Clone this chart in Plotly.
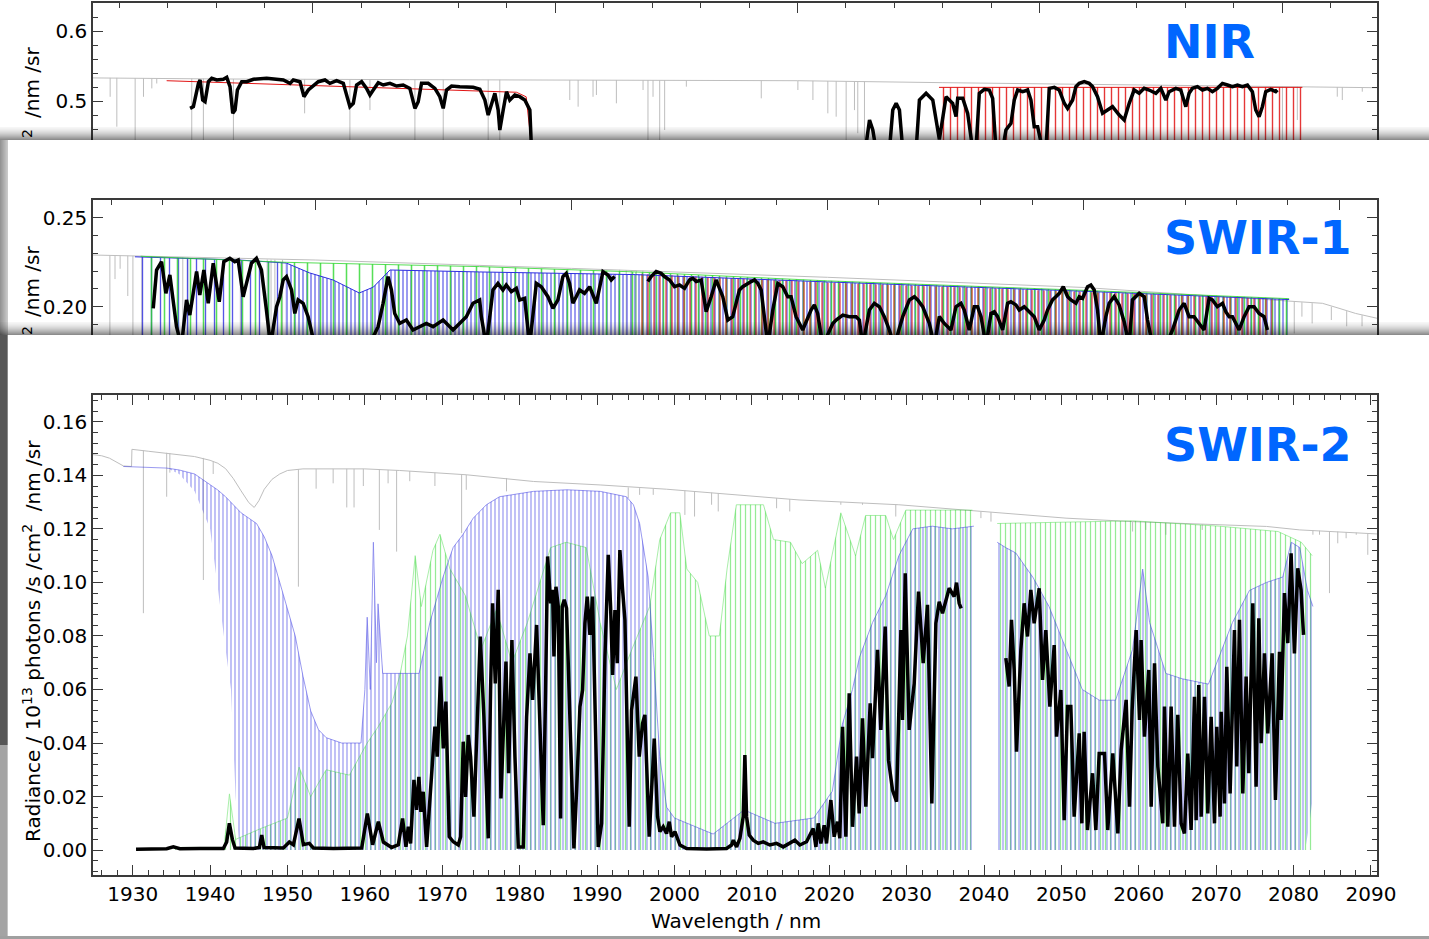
import plotly.graph_objects as go

W, H = 1429, 939
FONT = "DejaVu Sans"

# ======================= SWIR-2 (bottom panel) =======================
sw2_gray = [(1924.87,0.1477),(1926.0,0.1473),(1927.0,0.1464),(1928.0,0.1447),(1928.8,0.1435),(1929.85,0.1433),
            (1929.9,0.1497),(1932.0,0.1490),(1936.0,0.1478),(1938.0,0.1470),(1940.0,0.1456),(1941.0,0.1445),
            (1942.0,0.1425),(1943.0,0.1388),(1944.0,0.1342),(1945.0,0.1298),(1945.7,0.1280),(1946.3,0.1305),
            (1947.0,0.1348),(1948.0,0.1385),(1949.0,0.1405),(1950.0,0.1418),(1952.0,0.1424),(1960.0,0.1424),
            (1964.5,0.1418),(1973.1,0.1402),(1981.8,0.1377),(1990.4,0.1364),(1999.0,0.1348),(2007.6,0.1327),
            (2016.1,0.1308),(2029.0,0.1290),(2039.4,0.1265),(2050.6,0.1240),(2059.2,0.1227),(2070.0,0.1215),
            (2076.5,0.1209),(2080.8,0.1196),(2090.78,0.1181)]
# narrow absorption lines of the gray spectrum: (wavelength, continuum, line bottom)
sw2_gray_lines = [(1931.38,0.1493,0.0885),(1934.39,0.1484,0.1320),(1934.8,0.1483,0.1410),(1939.13,0.1465,0.1009),
                  (1940.4,0.1452,0.1405),(1951.41,0.1423,0.0984),(1953.7,0.1424,0.1350),(1955.9,0.1424,0.1370),
                  (1957.66,0.1424,0.1280),(1958.6,0.1424,0.1280),(1959.8,0.1424,0.1360),(1961.87,0.1423,0.1196),
                  (1963.0,0.1420,0.1370),(1964.1,0.1419,0.1115),(1965.8,0.1416,0.1378),(1969.05,0.1410,0.1360),
                  (1972.5,0.1403,0.1184),(1973.1,0.1402,0.1346),(1978.3,0.1390,0.1340),(1994.03,0.1355,0.1315),
                  (1995.5,0.1352,0.1327),(1997.26,0.1350,0.1327),(2001.35,0.1343,0.1252),(2002.6,0.1340,0.1246),
                  (2004.8,0.1335,0.1290),(2005.66,0.1333,0.1265),(2013.2,0.1315,0.1277),(2014.9,0.1311,0.1265),
                  (2021.5,0.1300,0.1290),(2024.3,0.1297,0.1290),(2028.6,0.1291,0.1246),(2039.6,0.1265,0.1240),
                  (2040.9,0.1262,0.1227),(2059.2,0.1227,0.1190),(2060.9,0.1225,0.1196),(2063.5,0.1222,0.1178),
                  (2068.2,0.1217,0.1196),(2082.5,0.1194,0.1178),(2083.35,0.1193,0.1178),(2084.64,0.1191,0.0960),
                  (2085.71,0.1190,0.1146),(2086.79,0.1188,0.1165),(2088.1,0.1186,0.1178),(2089.59,0.1183,0.1103)]
sw2_blue_top_a = [(1928.79,0.1433),(1934.4,0.1427),(1936.0,0.1420),(1938.0,0.1405),(1940.0,0.1365),(1941.0,0.1345),
                  (1942.0,0.1320),(1943.0,0.1290),(1944.0,0.1260),(1945.0,0.1240),(1946.0,0.1220),(1947.0,0.1170),
                  (1948.0,0.1100),(1949.0,0.1000),(1950.0,0.0900),(1951.0,0.0800),(1952.0,0.0650),(1953.0,0.0520),
                  (1954.0,0.0450),(1955.0,0.0420),(1957.0,0.0400),(1959.5,0.0400),(1960.0,0.0600),(1960.3,0.0870),
                  (1960.7,0.0600),(1961.1,0.1150),(1961.5,0.0700),(1961.7,0.0920),(1962.3,0.0660),(1967.0,0.0660),
                  (1968.4,0.0850),(1970.1,0.1020),(1971.4,0.1130),(1972.7,0.1180),(1974.0,0.1240),(1975.7,0.1290),
                  (1977.4,0.1320),(1981.8,0.1340),(1986.1,0.1346),(1990.4,0.1340),(1993.8,0.1320),(1994.7,0.1290),
                  (1995.5,0.1220),(1996.2,0.1100),(1996.6,0.1020),(1997.3,0.0720),(1998.1,0.0350),(1999.0,0.0160),
                  (2000.0,0.0120),(2005.0,0.0060),(2009.0,0.0150),(2013.0,0.0100),(2018.0,0.0120),(2020.4,0.0220),
                  (2021.7,0.0470),(2023.0,0.0600),(2023.9,0.0720),(2025.6,0.0850),(2027.3,0.0950),(2029.0,0.1100),
                  (2030.8,0.1200),(2033.3,0.1210),(2035.9,0.1200),(2038.7,0.1210)]
sw2_blue_bot_a = [(1928.79,0.1433),(1934.4,0.1427),(1936.0,0.1405),(1938.0,0.1340),(1940.0,0.1200),(1941.0,0.0980),
                  (1942.0,0.0750),(1942.7,0.0600),(1943.3,0.0200),(1943.8,0.0),(2038.7,0.0)]
sw2_blue_top_b = [(2041.7,0.1150),(2042.8,0.1130),(2044.1,0.1110),(2046.3,0.1020),(2048.4,0.0910),(2050.6,0.0750),
                  (2052.7,0.0600),(2054.9,0.0560),(2057.0,0.0560),(2059.2,0.0750),(2060.5,0.1050),(2061.4,0.0850),
                  (2063.5,0.0660),(2065.6,0.0640),(2069.0,0.0620),(2072.1,0.0850),(2074.3,0.0970),(2076.5,0.1000),
                  (2078.6,0.1020),(2079.7,0.1150),(2080.8,0.1130),(2081.8,0.0970),(2082.5,0.0910)]
sw2_blue_bot_b = [(2041.7,0.0),(2081.5,0.0),(2082.0,0.009),(2082.5,0.020)]
sw2_green_top_a = [(1935.0,0.0010),(1941.8,0.0010),(1942.5,0.0210),(1943.3,0.0040),(1946.5,0.0080),(1950.0,0.0120),
                   (1951.5,0.0310),(1953.0,0.0200),(1955.0,0.0300),(1958.0,0.0280),(1960.3,0.0400),(1961.7,0.0460),
                   (1963.5,0.0550),(1964.5,0.0650),(1965.5,0.0800),(1966.5,0.1100),(1967.3,0.0910),(1968.8,0.1120),
                   (1969.7,0.1180),(1971.0,0.1050),(1973.0,0.0950),(1975.0,0.0750),(1977.0,0.0900),(1979.0,0.0700),
                   (1981.0,0.0850),(1984.0,0.1130),(1986.0,0.1150),(1988.6,0.1130),(1990.4,0.0850),(1992.5,0.0600),
                   (1994.5,0.0750),(1996.8,0.0910),(1998.1,0.1160),(1999.5,0.1260),(2000.7,0.1260),(2001.6,0.1050),
                   (2003.0,0.1000),(2004.5,0.0800),(2005.8,0.0800),(2006.8,0.1050),(2008.0,0.1290),(2011.5,0.1290),
                   (2012.8,0.1160),(2015.0,0.1150),(2016.5,0.1070),(2018.5,0.1120),(2019.5,0.0980),(2021.5,0.1260),
                   (2023.4,0.1100),(2024.7,0.1250),(2027.3,0.1250),(2028.3,0.1160),(2029.9,0.1270),(2038.5,0.1270)]
sw2_green_bot_a = [(1935.0,0.0),(2038.5,0.0)]
sw2_green_top_b = [(2041.7,0.1220),(2059.2,0.1230),(2070.4,0.1210),(2078.0,0.1190),(2081.0,0.1150),(2082.4,0.1100)]
sw2_green_bot_b = [(2041.7,0.0),(2082.4,0.0)]
sw2_black_a = [(1930.43,0.0003),(1932.24,0.0004),(1934.39,0.0005),(1935.25,0.0012),(1936.1,0.0005),(1938.7,0.0006),
               (1941.71,0.0006),(1942.14,0.0030),(1942.49,0.0100),(1942.88,0.0040),(1943.22,0.0008),(1945.59,0.0006),
               (1946.37,0.0010),(1946.67,0.0056),(1946.97,0.0010),(1949.47,0.0008),(1950.24,0.0030),(1950.76,0.0020),
               (1951.49,0.0118),(1952.05,0.0020),(1952.82,0.0025),(1953.34,0.0008),(1955.93,0.0006),(1959.59,0.0008),
               (1960.32,0.0137),(1961.0,0.0020),(1961.74,0.0106),(1962.39,0.0030),(1963.46,0.0010),(1964.32,0.0020),
               (1964.87,0.0118),(1965.31,0.0012),(1965.61,0.0087),(1965.91,0.0025),(1966.34,0.0262),(1966.68,0.0150),
               (1966.98,0.0274),(1967.24,0.0143),(1967.54,0.0218),(1967.98,0.0012),(1968.41,0.0187),(1968.84,0.0336),
               (1969.05,0.0461),(1969.35,0.0349),(1969.78,0.0648),(1970.13,0.0380),(1970.47,0.0555),(1970.90,0.0050),
               (1971.42,0.0031),(1972.07,0.0019),(1972.37,0.0050),(1972.71,0.0405),(1973.01,0.0199),(1973.36,0.0430),
               (1973.66,0.0349),(1974.09,0.0125),(1974.52,0.0474),(1974.91,0.0798),(1975.38,0.0498),(1975.94,0.0044),
               (1976.24,0.0598),(1976.50,0.0922),(1976.85,0.0623),(1977.23,0.0972),(1977.58,0.0193),(1977.88,0.0474),
               (1978.23,0.0704),(1978.57,0.0287),(1979.00,0.0785),(1979.39,0.0349),(1979.82,0.0012),(1980.46,0.0012),
               (1980.90,0.0498),(1981.33,0.0735),(1981.67,0.0561),(1982.19,0.0841),(1982.62,0.0474),(1983.05,0.0093),
               (1983.35,0.0598),(1983.61,0.1097),(1984.00,0.0922),(1984.25,0.0972),(1984.43,0.0723),(1984.69,0.0984),
               (1984.99,0.0910),(1985.29,0.0118),(1985.50,0.0910),(1985.76,0.0935),(1986.06,0.0903),(1986.49,0.0474),
               (1987.01,0.0006),(1987.36,0.0224),(1987.79,0.0536),(1988.13,0.0598),(1988.43,0.0847),(1988.73,0.0947),
               (1989.08,0.0804),(1989.42,0.0947),(1989.72,0.0598),(1990.15,0.0012),(1990.59,0.0100),(1991.02,0.0723),
               (1991.45,0.1103),(1991.75,0.0910),(1992.01,0.0654),(1992.31,0.0897),(1992.61,0.0698),(1992.95,0.1121),
               (1993.30,0.0972),(1993.60,0.0860),(1994.16,0.0087),(1994.46,0.0523),(1995.02,0.0648),(1995.45,0.0349),
               (1995.88,0.0474),(1996.18,0.0505),(1996.74,0.0050),(1997.39,0.0417),(1997.82,0.0125),(1998.12,0.0069),
               (1998.55,0.0087),(1998.98,0.0062),(1999.33,0.0106),(1999.63,0.0050),(2000.06,0.0069),(2000.71,0.0019),
               (2001.57,0.0006),(2004.15,0.0004),(2006.73,0.0006),(2007.38,0.0019),(2007.60,0.0037),(2008.03,0.0012),
               (2008.46,0.0044),(2008.89,0.0125),(2009.10,0.0355),(2009.32,0.0125),(2009.66,0.0056),(2010.18,0.0037),
               (2010.83,0.0025),(2011.47,0.0031),(2012.33,0.0019),(2013.19,0.0025),(2014.06,0.0012),(2014.92,0.0025),
               (2015.56,0.0037),(2016.21,0.0019),(2017.07,0.0031),(2017.93,0.0081),(2018.28,0.0012),(2018.58,0.0100),
               (2018.92,0.0025),(2019.35,0.0093),(2019.65,0.0025),(2020.21,0.0187),(2020.64,0.0050),(2021.07,0.0106),
               (2021.37,0.0044),(2021.72,0.0461),(2022.15,0.0050),(2022.58,0.0586),(2023.01,0.0087),(2023.53,0.0349),
               (2023.87,0.0137),(2024.30,0.0492),(2024.73,0.0162),(2025.29,0.0548),(2025.59,0.0343),(2026.24,0.0748),
               (2026.67,0.0449),(2027.23,0.0835),(2027.66,0.0336),(2028.18,0.0224),(2028.70,0.0181),(2029.26,0.0822),
               (2029.47,0.0486),(2029.82,0.1034),(2030.33,0.0449),(2030.98,0.0623),(2031.54,0.0966),(2032.14,0.0698),
               (2032.70,0.0916),(2033.26,0.0174),(2033.78,0.0847),(2034.21,0.0928),(2034.64,0.0885),(2035.50,0.0978),
               (2036.15,0.0947),(2036.45,0.0999),(2036.79,0.0922),(2037.05,0.0903)]
sw2_black_b = [(2042.82,0.0717),(2043.25,0.0611),(2043.55,0.0860),(2043.90,0.0673),(2044.20,0.0368),(2044.76,0.0748),
               (2045.19,0.0922),(2045.62,0.0798),(2046.05,0.0972),(2046.48,0.0847),(2047.13,0.0978),(2047.56,0.0636),
               (2047.99,0.0822),(2048.51,0.0536),(2049.07,0.0766),(2049.37,0.0424),(2049.93,0.0598),(2050.36,0.0112),
               (2050.79,0.0536),(2051.22,0.0536),(2051.65,0.0125),(2052.30,0.0436),(2052.64,0.0100),(2052.94,0.0442),
               (2053.37,0.0075),(2054.02,0.0287),(2054.45,0.0075),(2054.88,0.0361),(2055.57,0.0361),(2055.99,0.0075),
               (2056.64,0.0361),(2057.29,0.0062),(2057.72,0.0374),(2058.37,0.0561),(2058.80,0.0162),(2059.14,0.0523),
               (2059.66,0.0822),(2060.09,0.0486),(2060.30,0.0785),(2060.73,0.0424),(2061.29,0.0673),(2061.60,0.0162),
               (2062.03,0.0698),(2062.46,0.0312),(2063.10,0.0100),(2063.32,0.0536),(2063.75,0.0087),(2064.18,0.0536),
               (2064.61,0.0087),(2065.04,0.0505),(2065.47,0.0100),(2065.90,0.0062),(2066.33,0.0361),(2066.76,0.0075),
               (2067.19,0.0573),(2067.41,0.0112),(2067.75,0.0617),(2068.06,0.0125),(2068.49,0.0573),(2068.92,0.0137),
               (2069.35,0.0498),(2069.78,0.0100),(2070.08,0.0461),(2070.51,0.0125),(2070.64,0.0517),(2071.07,0.0174),
               (2071.37,0.0685),(2071.80,0.0212),(2072.36,0.0822),(2072.66,0.0312),(2073.01,0.0860),(2073.44,0.0212),
               (2073.87,0.0648),(2074.21,0.0287),(2074.73,0.0922),(2075.16,0.0237),(2075.51,0.0866),(2075.81,0.0399),
               (2076.24,0.0735),(2076.67,0.0436),(2077.23,0.0735),(2077.66,0.0187),(2078.18,0.0741),(2078.39,0.0486),
               (2078.82,0.0960),(2079.25,0.0773),(2079.68,0.1109),(2080.11,0.0735),(2080.54,0.1053),(2080.97,0.0972),
               (2081.28,0.0804)]

# ======================= SWIR-1 (middle panel) =======================
sw1_gray = [(1582.58,0.2290),(1586.0,0.2285),(1590.0,0.2276),(1600.0,0.2262),(1620.0,0.2215),(1640.0,0.2165),
            (1660.0,0.2108),(1676.4,0.2032),(1678.7,0.2019),(1680.0,0.1991),(1681.3,0.1962),(1682.97,0.1935)]
sw1_gray_lines = [(1583.9,0.2288,0.150),(1584.3,0.2288,0.2155),(1584.7,0.2287,0.2213),(1585.3,0.2286,0.2060),
                  (1585.7,0.2286,0.150),(1586.4,0.2285,0.150),(1589.6,0.2277,0.150),(1590.0,0.2276,0.150),
                  (1594.1,0.2268,0.150),(1596.2,0.2265,0.150),(1596.5,0.2264,0.150),(1596.8,0.2264,0.150),
                  (1597.4,0.2263,0.150),(1623.75,0.2207,0.150),(1624.27,0.2206,0.150),(1624.66,0.2205,0.150),
                  (1625.05,0.2204,0.150),(1625.57,0.2203,0.150),(1676.5,0.2031,0.1850),(1677.1,0.2025,0.1944),
                  (1677.9,0.2020,0.1906),(1679.4,0.2000,0.1925),(1680.6,0.1975,0.1890),(1681.8,0.1952,0.1890)]
sw1_blue_top_sparse = [(1585.86,0.2280),(1590.0,0.2272),(1594.0,0.2262),(1597.7,0.2245)]
sw1_blue_top_dense = [(1597.7,0.2245),(1599.5,0.2190),(1601.35,0.2150),(1603.4,0.2077),(1604.5,0.2110),(1605.8,0.2206),
                      (1612.8,0.2195),(1625.0,0.2180),(1640.0,0.2139),(1660.0,0.2087),(1676.1,0.2040)]
sw1_green_top_sparse = [(1586.3,0.2283),(1597.7,0.2249),(1612.8,0.2225),(1625.0,0.2195)]
sw1_green_top_dense = [(1625.0,0.2195),(1640.0,0.2145),(1660.0,0.2092),(1676.1,0.2045)]
sw1_red_top = [(1625.3,0.2185),(1640.0,0.2135),(1660.0,0.2083),(1674.8,0.2045)]
sw1_band_floor = 0.15
sw1_black_a = [(1587.29,0.1991),(1587.55,0.2206),(1587.94,0.2253),(1588.28,0.2075),(1588.59,0.2178),(1589.11,0.1888),
               (1589.50,0.1780),(1589.89,0.2038),(1590.15,0.1953),(1590.68,0.2197),(1590.93,0.2066),(1591.25,0.2206),
               (1591.59,0.2019),(1591.98,0.2244),(1592.45,0.2028),(1592.81,0.2253),(1593.28,0.2272),(1593.67,0.2253),
               (1593.93,0.2262),(1594.32,0.2056),(1594.58,0.2131),(1594.97,0.2244),(1595.36,0.2272),(1595.75,0.2206),
               (1596.14,0.1981),(1596.46,0.1780),(1596.93,0.2000),(1597.19,0.2056),(1597.45,0.2150),(1597.71,0.2169),
               (1598.10,0.2094),(1598.36,0.1962),(1598.62,0.2038),(1599.01,0.2019),(1599.40,0.1944),(1599.92,0.1780),
               (1603.96,0.1750),(1604.87,0.1888),(1605.26,0.2019),(1605.65,0.2169),(1605.91,0.2094),(1606.17,0.1962),
               (1606.56,0.1906),(1607.08,0.1925),(1607.60,0.1869),(1608.12,0.1888),(1608.64,0.1906),(1609.17,0.1888),
               (1609.95,0.1925),(1610.73,0.1869),(1611.77,0.1944),(1612.29,0.2019),(1612.81,0.2038),(1612.94,0.1944),
               (1613.33,0.1780),(1613.85,0.2094),(1614.24,0.2131),(1614.63,0.2094),(1614.89,0.2122),(1615.29,0.2084),
               (1615.68,0.2103),(1615.94,0.2038),(1616.33,0.2047),(1616.72,0.1780),(1617.24,0.2131),(1617.63,0.2112),
               (1618.15,0.2056),(1618.54,0.1991),(1618.93,0.2038),(1619.32,0.2169),(1619.58,0.2187),(1619.84,0.2131),
               (1620.10,0.2019),(1620.36,0.2056),(1620.62,0.2094),(1621.01,0.2075),(1621.41,0.2112),(1621.93,0.2019),
               (1622.19,0.2112),(1622.45,0.2197),(1622.84,0.2178),(1623.10,0.2150),(1623.36,0.2169)]
sw1_black_b = [(1625.96,0.2141),(1626.22,0.2169),(1626.61,0.2197),(1627.00,0.2187),(1627.26,0.2169),(1627.66,0.2150),
               (1628.05,0.2112),(1628.44,0.2122),(1628.83,0.2103),(1629.22,0.2150),(1629.48,0.2159),(1629.74,0.2141),
               (1630.13,0.2150),(1630.52,0.1972),(1630.91,0.2056),(1631.30,0.2150),(1631.82,0.2056),(1632.21,0.1925),
               (1632.60,0.1944),(1632.86,0.2019),(1633.12,0.2094),(1633.38,0.2112),(1633.77,0.2131),(1634.04,0.2141),
               (1634.30,0.2150),(1634.56,0.2131),(1634.82,0.2094),(1634.95,0.2000),(1635.34,0.1780),(1635.73,0.1981),
               (1636.12,0.2131),(1636.51,0.2112),(1636.90,0.2056),(1637.16,0.2056),(1637.55,0.1944),(1638.07,0.1869),
               (1638.72,0.1981),(1638.98,0.2010),(1639.24,0.1962),(1639.63,0.1780),(1640.42,0.1906),(1640.68,0.1925),
               (1641.20,0.1953),(1641.72,0.1944),(1642.24,0.1944),(1642.50,0.1925),(1642.76,0.1780),(1643.28,0.1981),
               (1643.67,0.2019),(1644.06,0.2000),(1644.45,0.1944),(1644.84,0.1869),(1645.23,0.1780),(1645.89,0.1944),
               (1646.41,0.2038),(1646.80,0.2056),(1647.06,0.2038),(1647.45,0.2000),(1647.97,0.1906),(1648.36,0.1780),
               (1648.75,0.1944),(1649.14,0.1906),(1649.66,0.1869),(1650.05,0.2000),(1650.44,0.2019),(1650.70,0.1981),
               (1651.09,0.1869),(1651.48,0.2000),(1651.74,0.2000),(1652.01,0.1944),(1652.40,0.1780),(1652.79,0.1962),
               (1653.05,0.1972),(1653.31,0.1944),(1653.70,0.1869),(1654.09,0.2019),(1654.35,0.2028),(1654.74,0.2010),
               (1655.00,0.1981),(1655.39,0.2000),(1655.78,0.1972),(1656.17,0.1944),(1656.56,0.1869),(1656.95,0.1925),
               (1657.21,0.1981),(1657.60,0.2038),(1657.86,0.2056),(1658.13,0.2075),(1658.44,0.2112),(1658.78,0.2056),
               (1659.04,0.2038),(1659.43,0.2019),(1659.69,0.2056),(1659.95,0.2047),(1660.34,0.2112),(1660.60,0.2122),
               (1660.86,0.2094),(1661.12,0.1981),(1661.38,0.1780),(1661.77,0.1944),(1662.03,0.2019),(1662.42,0.2056),
               (1662.81,0.2010),(1663.20,0.1916),(1663.59,0.1780),(1663.85,0.2038),(1664.38,0.2075),(1664.77,0.2056),
               (1665.03,0.1925),(1665.42,0.1780),(1666.46,0.1780),(1666.98,0.1869),(1667.50,0.1981),(1667.89,0.2019),
               (1668.28,0.1944),(1668.67,0.1944),(1669.06,0.1906),(1669.45,0.1869),(1669.84,0.2047),(1670.10,0.2038),
               (1670.49,0.2000),(1670.89,0.2019),(1671.15,0.1972),(1671.41,0.1944),(1671.67,0.1944),(1672.19,0.1869),
               (1672.58,0.1944),(1672.97,0.2000),(1673.36,0.2000),(1673.75,0.1962),(1674.14,0.1944),(1674.40,0.1869)]

# ======================= NIR (top panel) =======================
nir_gray = [(757.73,0.5330),(759.0,0.5315),(761.0,0.5305),(763.0,0.5300),(765.0,0.5290),(766.5,0.5262),
            (768.0,0.5240),(770.2,0.5205),(770.98,0.5190)]
nir_gray_lines = [(757.907,0.5330,0.5060),(757.976,0.5330,0.4633),(758.165,0.5328,0.43),(758.251,0.5327,0.5060),
                  (758.337,0.5326,0.5180),(758.388,0.5326,0.5250),(758.749,0.5320,0.43),(758.869,0.5320,0.43),
                  (759.179,0.5314,0.43),(759.914,0.5310,0.4824),(760.381,0.5307,0.43),(760.588,0.5306,0.4870),
                  (761.052,0.5305,0.43),(761.344,0.5304,0.43),(761.808,0.5303,0.43),(761.928,0.5303,0.43),
                  (762.650,0.5300,0.5014),(762.736,0.5300,0.4919),(762.890,0.5300,0.5060),(762.925,0.5300,0.5086),
                  (763.131,0.5300,0.4967),(763.406,0.5300,0.5157),(763.457,0.5300,0.43),(763.509,0.5300,0.5060),
                  (763.578,0.5300,0.43),(763.629,0.5300,0.4586),(763.853,0.5299,0.5205),(764.626,0.5295,0.5038),
                  (765.004,0.5290,0.5157),(765.159,0.5288,0.5014),(765.313,0.5285,0.4824),(765.399,0.5284,0.4776),
                  (765.502,0.5283,0.43),(765.588,0.5282,0.4870),(765.622,0.5281,0.4540),(765.691,0.5280,0.43),
                  (770.004,0.5208,0.43),(770.158,0.5206,0.4729),(770.570,0.5199,0.5062),(770.622,0.5198,0.5014),
                  (770.828,0.5194,0.5133)]
nir_red_left = [(758.49,0.5290),(761.72,0.5148),(762.10,0.5125),(762.20,0.5060),(762.26,0.43)]
nir_red_top = [(766.46,0.5195),(770.21,0.5195)]
nir_red_floor = 0.40
nir_black_a = [(758.732,0.4895),(758.766,0.4919),(758.818,0.5252),(758.835,0.5300),(758.862,0.5014),(758.886,0.4990),
               (758.921,0.5276),(758.955,0.5324),(759.007,0.5300),(759.075,0.5310),(759.110,0.5338),(759.144,0.5205),
               (759.172,0.4824),(759.196,0.4871),(759.220,0.5157),(759.265,0.5276),(759.316,0.5276),(759.385,0.5310),
               (759.522,0.5324),(759.694,0.5300),(759.763,0.5252),(759.797,0.5300),(759.866,0.5276),(759.907,0.5062),
               (759.952,0.5157),(759.986,0.5195),(760.055,0.5276),(760.124,0.5300),(760.175,0.5252),(760.244,0.5290),
               (760.313,0.5252),(760.381,0.4919),(760.416,0.4967),(760.450,0.5229),(760.502,0.5276),(760.553,0.5181),
               (760.588,0.5086),(760.622,0.5157),(760.674,0.5262),(760.725,0.5229),(760.794,0.5252),(760.863,0.5214),
               (760.931,0.5229),(761.000,0.5181),(761.052,0.4895),(761.086,0.4990),(761.120,0.5252),(761.189,0.5252),
               (761.258,0.5181),(761.309,0.5062),(761.344,0.4895),(761.378,0.5157),(761.430,0.5214),(761.515,0.5205),
               (761.584,0.5195),(761.653,0.5195),(761.722,0.5167),(761.774,0.5014),(761.808,0.4800),(761.842,0.4967),
               (761.877,0.5110),(761.911,0.4871),(761.928,0.4586),(761.963,0.4871),(761.997,0.5133),(762.031,0.5014),
               (762.083,0.5086),(762.134,0.5062),(762.186,0.5014),(762.238,0.4871),(762.255,0.4300)]
nir_black_b = [(765.700,0.4300),(765.743,0.4729),(765.777,0.4586),(765.811,0.4300),(765.949,0.4300),(765.983,0.4871),
               (766.018,0.4967),(766.052,0.4871),(766.086,0.4300),(766.224,0.4300),(766.258,0.5014),(766.327,0.5110),
               (766.396,0.5014),(766.464,0.4450),(766.533,0.5062),(766.601,0.4967),(766.636,0.4776),(766.653,0.5038),
               (766.705,0.5038),(766.756,0.4824),(766.808,0.4300),(766.842,0.4300),(766.876,0.5110),(766.928,0.5167),
               (766.979,0.5157),(767.014,0.5038),(767.048,0.4300),(767.117,0.4300),(767.151,0.4586),(767.203,0.4681),
               (767.237,0.5014),(767.272,0.5157),(767.323,0.5133),(767.375,0.5157),(767.409,0.5014),(767.443,0.4633),
               (767.478,0.4633),(767.529,0.4300),(767.564,0.4300),(767.598,0.5181),(767.650,0.5195),(767.701,0.5157),
               (767.753,0.4967),(767.787,0.4895),(767.839,0.5014),(767.873,0.5205),(767.907,0.5252),(767.959,0.5276),
               (768.010,0.5252),(768.045,0.5205),(768.096,0.5062),(768.148,0.4824),(768.199,0.4871),(768.251,0.4919),
               (768.320,0.4800),(768.371,0.4729),(768.423,0.4967),(768.474,0.5157),(768.526,0.5110),(768.577,0.5181),
               (768.629,0.5157),(768.698,0.5110),(768.749,0.5181),(768.801,0.5014),(768.835,0.5133),(768.904,0.5181),
               (768.955,0.5157),(769.007,0.4919),(769.041,0.5110),(769.076,0.5181),(769.127,0.5205),(769.179,0.5157),
               (769.230,0.5181),(769.282,0.5133),(769.333,0.5181),(769.385,0.5252),(769.437,0.5229),(769.488,0.5205),
               (769.540,0.5229),(769.591,0.5205),(769.643,0.5229),(769.694,0.5133),(769.729,0.4871),(769.763,0.4776),
               (769.797,0.4919),(769.832,0.5133),(769.883,0.5167),(769.935,0.5133),(769.952,0.5157)]

# ======================= text =======================
panel_labels = ["NIR", "SWIR-1", "SWIR-2"]
y_title = "Radiance / 10<sup>13</sup> photons /s /cm<sup>2</sup>\u00a0\u00a0/nm /sr"
x_title = "Wavelength / nm"

# ======================= colours =======================
GRAY = "rgb(190,190,190)"
BLUE = "rgb(45,45,225)"
GREEN = "rgb(45,215,45)"
RED = "rgb(225,20,20)"
LABEL_BLUE = "#0066ff"
AXC = "#3a3a3a"

def xs(p):
    return [a[0] for a in p]

def ys(p):
    return [a[1] for a in p]

fig = go.Figure()

def line(pairs, color, width, ax, opacity=1.0):
    fig.add_trace(go.Scatter(x=xs(pairs), y=ys(pairs), mode="lines", opacity=opacity,
                             line=dict(color=color, width=width), xaxis=ax[0], yaxis=ax[1],
                             hoverinfo="skip", showlegend=False))

def vlines(lines, color, width, ax, opacity=1.0):
    x, y = [], []
    for w, t, b in lines:
        x += [w, w, None]
        y += [t, b, None]
    fig.add_trace(go.Scatter(x=x, y=y, mode="lines", opacity=opacity,
                             line=dict(color=color, width=width), xaxis=ax[0], yaxis=ax[1],
                             hoverinfo="skip", showlegend=False))

def band(top, bottom, color, size, solidity, fgop, ax):
    bx = xs(top) + xs(bottom)[::-1]
    by = ys(top) + ys(bottom)[::-1]
    fig.add_trace(go.Scatter(x=bx, y=by, mode="none", fill="toself", fillcolor="rgba(0,0,0,0)",
                             fillpattern=dict(shape="|", size=size, solidity=solidity, fgcolor=color,
                                              fgopacity=fgop, bgcolor="rgba(0,0,0,0)"),
                             xaxis=ax[0], yaxis=ax[1], hoverinfo="skip", showlegend=False))

def floor(top, value):
    return [(top[0][0], value), (top[-1][0], value)]

P3 = ("x", "y")
P2 = ("x2", "y2")
P1 = ("x3", "y3")
BLACK_W = 3.5

# ---- SWIR-2
line(sw2_gray, GRAY, 1, P3)
vlines(sw2_gray_lines, GRAY, 1, P3)
band(sw2_green_top_a, sw2_green_bot_a, GREEN, 5, 0.25, 0.5, P3)
band(sw2_green_top_b, sw2_green_bot_b, GREEN, 5, 0.25, 0.5, P3)
band(sw2_blue_top_a, sw2_blue_bot_a, BLUE, 4, 0.30, 0.50, P3)
band(sw2_blue_top_b, sw2_blue_bot_b, BLUE, 4, 0.30, 0.50, P3)
line(sw2_green_top_a, GREEN, 0.8, P3, 0.5)
line(sw2_green_top_b, GREEN, 0.8, P3, 0.5)
line(sw2_blue_top_a, BLUE, 0.8, P3, 0.6)
line(sw2_blue_top_b, BLUE, 0.8, P3, 0.6)
line(sw2_black_a, "black", BLACK_W, P3)
line(sw2_black_b, "black", BLACK_W, P3)

# ---- SWIR-1
line(sw1_gray, GRAY, 1, P2)
vlines(sw1_gray_lines, GRAY, 1, P2)
band(sw1_blue_top_sparse, floor(sw1_blue_top_sparse, sw1_band_floor), BLUE, 9, 0.15, 0.8, P2)
band(sw1_blue_top_dense, floor(sw1_blue_top_dense, sw1_band_floor), BLUE, 4, 0.30, 0.8, P2)
band(sw1_green_top_sparse, floor(sw1_green_top_sparse, sw1_band_floor), GREEN, 13, 0.12, 0.8, P2)
band(sw1_green_top_dense, floor(sw1_green_top_dense, sw1_band_floor), GREEN, 7, 0.22, 0.8, P2)
band(sw1_red_top, floor(sw1_red_top, sw1_band_floor), RED, 6, 0.22, 0.8, P2)
line(sw1_blue_top_sparse + sw1_blue_top_dense[1:], BLUE, 1, P2)
line(sw1_green_top_sparse + sw1_green_top_dense[1:], GREEN, 1, P2, 0.8)
line(sw1_black_a, "black", BLACK_W, P2)
line(sw1_black_b, "black", BLACK_W, P2)

# ---- NIR
line(nir_gray, GRAY, 1, P1)
vlines(nir_gray_lines, GRAY, 1, P1)
band(nir_red_top, floor(nir_red_top, nir_red_floor), RED, 7, 0.2, 0.85, P1)
line(nir_red_top, RED, 1, P1)
line(nir_red_left, RED, 1, P1)
line(nir_black_a, "black", BLACK_W, P1)
line(nir_black_b, "black", BLACK_W, P1)

# ======================= axes =======================
tickfont = dict(family=FONT, size=20, color="black")
base = dict(showline=True, linecolor=AXC, linewidth=1.5, ticks="inside", ticklen=10, tickwidth=1,
            tickcolor=AXC, showgrid=False, zeroline=False, tickfont=tickfont, automargin=False)

def minor(dt):
    return dict(ticks="inside", ticklen=5, tickwidth=1, tickcolor=AXC, dtick=dt, showgrid=False)

xdom = [93 / W, 1377 / W]
fig.update_layout(
    width=W, height=H, autosize=False, margin=dict(l=0, r=0, t=0, b=0, autoexpand=False),
    paper_bgcolor="white", plot_bgcolor="white", showlegend=False,
    xaxis=dict(base, domain=xdom, anchor="y", range=[1924.87, 2090.78], tick0=1930, dtick=10,
               mirror="allticks", minor=minor(2)),
    yaxis=dict(base, domain=[1 - 875 / H, 1 - 395 / H], anchor="x", range=[-0.0093, 0.170],
               tick0=0, dtick=0.02, tickformat=".2f", mirror="allticks", minor=minor(0.004)),
    xaxis2=dict(base, domain=xdom, anchor="y2", side="top", range=[1582.58, 1682.97], tick0=1600,
                dtick=20, showticklabels=False, mirror=False, minor=minor(4)),
    yaxis2=dict(base, domain=[1 - 335 / H, 1 - 200 / H], anchor="x2", range=[0.1841, 0.2599],
                tick0=0, dtick=0.05, tickformat=".2f", mirror="allticks", minor=minor(0.01)),
    xaxis3=dict(base, domain=xdom, anchor="y3", side="top", range=[757.73, 770.98], tick0=760,
                dtick=2.5, showticklabels=False, mirror=False, minor=minor(0.5)),
    yaxis3=dict(base, domain=[1 - 140 / H, 1 - 3 / H], anchor="x3", range=[0.4443, 0.64],
                tick0=0, dtick=0.1, tickformat=".1f", mirror="allticks", minor=minor(0.02)),
)

# ======================= slide-card shadows =======================
shapes = []

def rect(x0, y0, x1, y1, color):
    shapes.append(dict(type="rect", xref="paper", yref="paper", x0=x0 / W, x1=x1 / W,
                       y0=1 - y1 / H, y1=1 - y0 / H, fillcolor=color, line=dict(width=0), layer="above"))

for top_edge in (140, 335):
    for i in range(13):
        a = 0.03 + 0.42 * ((i + 1) / 13) ** 1.6
        rect(0, top_edge - 13 + i, W, top_edge - 12 + i, "rgba(0,0,0,%.3f)" % a)
for j in range(8):
    rect(j, 140, j + 1, 335, "rgba(0,0,0,%.3f)" % (0.42 - 0.03 * j))
rect(0, 335, 7, 745, "#575757")
rect(7, 335, 8, 745, "#8a8a8a")
rect(0, 745, 7, 939, "#a4a4a4")
rect(7, 745, 8, 939, "#c4c4c4")
rect(0, 936, W, 939, "#a0a0a0")
fig.update_layout(shapes=shapes)

# ======================= annotations =======================
ann = []
for text, yc in zip(panel_labels, (42, 238, 445)):
    ann.append(dict(text="<b>%s</b>" % text, x=1162 / W, y=1 - yc / H, xref="paper", yref="paper",
                    xanchor="left", yanchor="middle", showarrow=False,
                    font=dict(family=FONT, size=46, color=LABEL_BLUE)))
ann.append(dict(text=y_title, x=32 / W, y=1 - 641 / H, xref="paper", yref="paper", textangle=-90,
                xanchor="center", yanchor="middle", showarrow=False, font=dict(family=FONT, size=20, color="black")))
for yc, ys2 in ((82, 134), (281, 331)):
    ann.append(dict(text="/nm /sr", x=32 / W, y=1 - yc / H, xref="paper", yref="paper", textangle=-90,
                    xanchor="center", yanchor="middle", showarrow=False,
                    font=dict(family=FONT, size=20, color="black")))
    ann.append(dict(text="2", x=27 / W, y=1 - ys2 / H, xref="paper", yref="paper", textangle=-90,
                    xanchor="center", yanchor="middle", showarrow=False,
                    font=dict(family=FONT, size=14, color="black")))
ann.append(dict(text=x_title, x=736 / W, y=1 - 921 / H, xref="paper", yref="paper", xanchor="center",
                yanchor="middle", showarrow=False, font=dict(family=FONT, size=20, color="black")))
fig.update_layout(annotations=ann)

post = ("document.documentElement.style.overflow='hidden';"
        "document.body.style.overflow='hidden';document.body.style.margin='0';")
fig.write_html("out.html", config={"displayModeBar": False, "responsive": False}, post_script=post)
